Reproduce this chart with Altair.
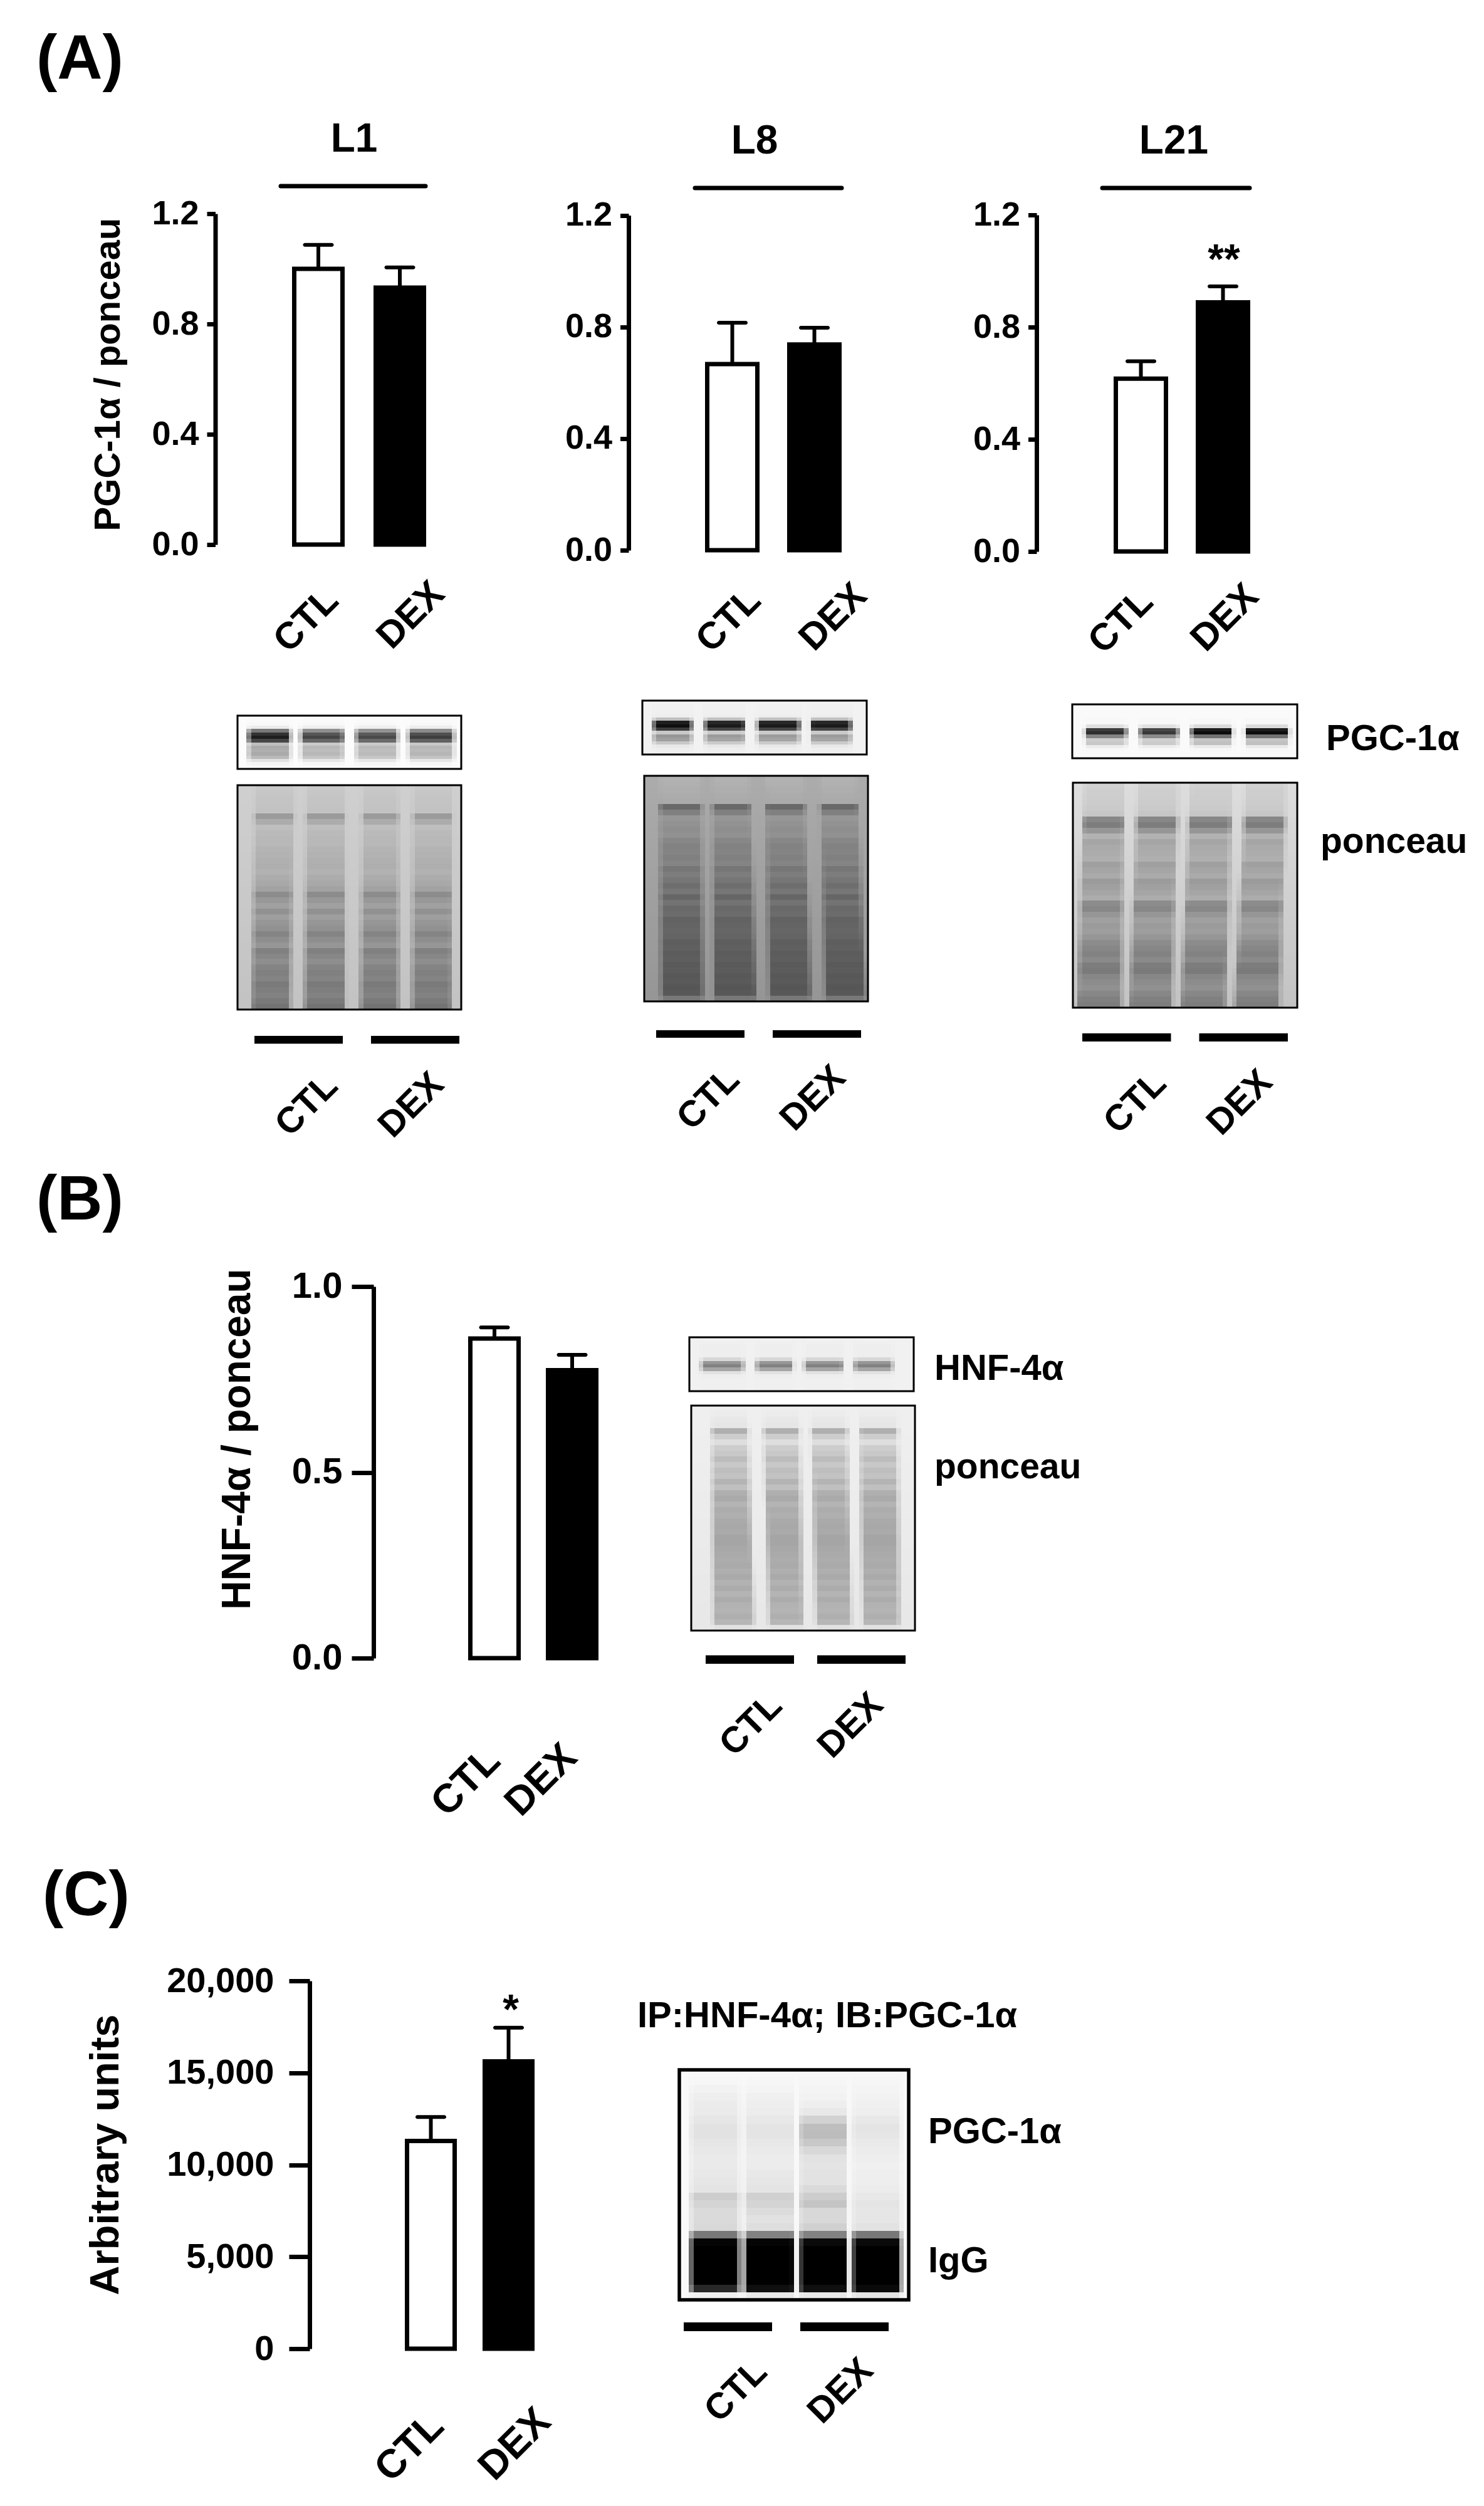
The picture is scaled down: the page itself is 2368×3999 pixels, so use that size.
import altair as alt
import pandas as pd

FONT = "Liberation Sans"
M = 8  # page margin: picture coordinates minus this give plot coordinates

GROUPS = ["CTL", "DEX"]

# ---- bar values ----
L1_MEAN = [1.00, 0.932]
L1_TOP = [1.087, 1.005]
L8_MEAN = [0.667, 0.737]
L8_TOP = [0.815, 0.797]
L21_MEAN = [0.616, 0.888]
L21_TOP = [0.678, 0.945]
B_MEAN = [0.86, 0.775]
B_TOP = [0.89, 0.816]
C_MEAN = [11295, 15620]
C_TOP = [12600, 17450]
TICKS_A = [0, 0.4, 0.8, 1.2]
TICKS_B = [0, 0.5, 1.0]
TICKS_C = [0, 5000, 10000, 15000, 20000]

# ---- blot row profiles (grey level, top to bottom) ----
W_L1 = [250, 250, 248, 235, 120, 50, 30, 70, 190, 170, 175, 170, 185, 225, 245, 250]
W_L8 = [242, 240, 240, 240, 238, 190, 30, 15, 60, 200, 150, 160, 200, 232, 238, 240]
W_L21 = [250, 250, 250, 250, 248, 248, 220, 40, 25, 120, 200, 195, 235, 248, 250, 250]
W_B = [242, 240, 238, 238, 238, 238, 215, 150, 130, 165, 225, 238, 240, 240, 240, 238]
P_L1 = [200, 198, 196, 195, 194, 155, 172, 190, 186, 184, 184, 180, 178, 176, 174, 178, 172, 168, 162, 140,
        152, 160, 145, 158, 150, 145, 132, 142, 150, 128, 135, 142, 132, 128, 132, 122, 126, 130, 122, 115]
P_L8 = [178, 176, 174, 172, 170, 105, 128, 150, 146, 142, 145, 135, 130, 132, 128, 132, 118, 125, 118, 110,
        118, 102, 115, 105, 108, 98, 100, 102, 100, 94, 96, 92, 94, 90, 92, 88, 90, 86, 88, 120]
P_L21 = [208, 206, 205, 204, 202, 198, 135, 125, 150, 178, 165, 170, 172, 175, 160, 165, 170, 155, 160, 165,
         172, 140, 135, 150, 160, 155, 158, 150, 140, 135, 130, 138, 125, 122, 135, 140, 145, 135, 128, 125]
P_B = [238, 236, 232, 230, 175, 205, 222, 205, 200, 188, 200, 190, 195, 180, 192, 175, 170, 180, 172, 175,
       170, 168, 170, 165, 165, 168, 170, 172, 170, 175, 170, 178, 172, 180, 172, 178, 180, 175, 182, 225]
IP_LANE1 = [248, 246, 242, 238, 235, 234, 230, 226, 226, 230, 232, 234, 234, 232, 230, 228, 205, 212, 218, 218,
            216, 120, 5, 0, 0, 0, 0, 0, 40, 240]
IP_LANE2 = [248, 246, 244, 240, 238, 236, 232, 228, 228, 232, 234, 236, 236, 232, 230, 228, 208, 212, 220, 226,
            222, 130, 5, 0, 0, 0, 0, 0, 15, 232]
IP_LANE3 = [248, 246, 244, 242, 238, 232, 210, 190, 188, 200, 216, 226, 228, 226, 226, 218, 205, 196, 216, 216,
            208, 130, 10, 0, 0, 0, 0, 0, 15, 232]
IP_LANE4 = [248, 246, 244, 242, 240, 238, 232, 228, 230, 234, 236, 238, 240, 238, 238, 236, 232, 228, 230, 230,
            226, 120, 10, 0, 0, 0, 0, 0, 10, 228]

BASE = dict(width=2352, height=3983)


def px(v):
    return v - M


def band_x(left, right, bar):
    """Band scale from the outer extent of the two bars / strips."""
    span = right - left
    step = span - bar
    return alt.Scale(type="band", domain=GROUPS, range=[px(left), px(right)],
                     paddingInner=1 - bar / step, paddingOuter=0)


def y_scale(dom_max, y_bottom, y_top):
    return alt.Scale(domain=[0, dom_max], range=[px(y_bottom), px(y_top)], nice=False, zero=False)


def table(**cols):
    return pd.DataFrame(cols)


def text_at(s, x, y, size, align="left", baseline="alphabetic"):
    return (alt.Chart(table(t=[s]))
            .mark_text(font=FONT, fontWeight="bold", fontSize=size, color="black", align=align, baseline=baseline)
            .encode(text="t:N", x=alt.value(px(x)), y=alt.value(px(y))))


def slanted_labels(cx, cy, size=60):
    return (alt.Chart(table(group=GROUPS))
            .mark_text(font=FONT, fontWeight="bold", fontSize=size, color="black", angle=315,
                       align="center", baseline="middle")
            .encode(text="group:N",
                    x=alt.X("group:N", axis=None,
                            scale=alt.Scale(type="point", domain=GROUPS, range=[px(cx[0]), px(cx[1])], padding=0)),
                    y=alt.Y("group:N", axis=None,
                            scale=alt.Scale(type="point", domain=GROUPS, range=[px(cy[0]), px(cy[1])], padding=0))))


def strips(left, right, bar, y0, y1):
    return (alt.Chart(table(group=GROUPS)).mark_rect(color="black")
            .encode(x=alt.X("group:N", axis=None, scale=band_x(left, right, bar)),
                    y=alt.value(px(y0)), y2=alt.value(px(y1))))


def bar_panel(mean, top, ticks, fmt, dom_max, axis_x, y_bottom, y_top, left, right, bar_w, cap, stroke=7,
              tick_size=13.5, label_pad=13, label_size=54, title=None, title_size=58, title_x=None, title_y=None):
    d = table(group=GROUPS, mean=mean, top=top)
    xs = band_x(left + stroke / 2, right - stroke / 2, bar_w - stroke)
    ys = y_scale(dom_max, y_bottom, y_top)
    x = alt.X("group:N", axis=None, scale=xs)
    stem = alt.Chart(d).mark_rule(color="black", strokeWidth=6).encode(
        x=x, y=alt.Y("mean:Q", axis=None, scale=ys), y2="top:Q")
    capm = alt.Chart(d).mark_tick(color="black", size=cap, thickness=6, orient="horizontal",
                                  cornerRadius=3, opacity=1).encode(
        x=x, y=alt.Y("top:Q", axis=None, scale=ys))
    ax = dict(values=ticks, format=fmt, orient="left", offset=-px(axis_x), grid=False,
              domainColor="black", domainWidth=7, tickColor="black", tickWidth=7, tickSize=tick_size,
              labelFont=FONT, labelFontWeight="bold", labelFontSize=label_size, labelColor="black",
              labelPadding=label_pad, title=title if title else None)
    if title:
        ax.update(titleFont=FONT, titleFontWeight="bold", titleFontSize=title_size, titleColor="black",
                  titleAngle=270, titleAlign="center", titleBaseline="alphabetic",
                  titleX=title_x - axis_x, titleY=px(title_y))
    bars = alt.Chart(d).mark_bar(stroke="black", strokeWidth=stroke, strokeJoin="miter").encode(
        x=x,
        y=alt.Y("mean:Q", stack=None, axis=alt.Axis(**ax), scale=ys),
        fill=alt.Fill("group:N", legend=None, scale=alt.Scale(domain=GROUPS, range=["#ffffff", "#000000"])))
    return [stem, capm, bars]


def blot(rows, lanes_top, lanes_bot, box, bg, strength=(1, 1, 1, 1), border=3, ncols=48, bg_bot=None):
    x0, x1, y0, y1 = box
    per_lane = isinstance(rows[0], (list, tuple))
    nrows = len(rows[0]) if per_lane else len(rows)
    bg_bot = bg if bg_bot is None else bg_bot
    recs = []
    for r in range(nrows):
        t = (r + 0.5) / nrows
        back = bg + (bg_bot - bg) * t
        for c in range(ncols):
            f = (c + 0.5) / ncols
            val = back
            for i in range(4):
                l = lanes_top[i][0] + (lanes_bot[i][0] - lanes_top[i][0]) * t
                h = lanes_top[i][1] + (lanes_bot[i][1] - lanes_top[i][1]) * t
                m = max(0.0, min(1.0, min(f - l, h - f) / 0.022 + 0.5))
                if m > 0:
                    level = rows[i][r] if per_lane else rows[r]
                    val = back + m * strength[i] * (level - back)
            g = int(max(0, min(255, val)))
            recs.append(dict(c0=c, c1=c + 1, r0=r, r1=r + 1, g=f"#{g:02x}{g:02x}{g:02x}"))
    xs = alt.Scale(domain=[0, ncols], range=[px(x0), px(x1)], nice=False, zero=False, round=True)
    ys = alt.Scale(domain=[0, nrows], range=[px(y0), px(y1)], nice=False, zero=False, round=True)
    cells = alt.Chart(pd.DataFrame(recs)).mark_rect(strokeWidth=0).encode(
        x=alt.X("c0:Q", axis=None, scale=xs), x2="c1:Q",
        y=alt.Y("r0:Q", axis=None, scale=ys), y2="r1:Q",
        color=alt.Color("g:N", scale=None, legend=None))
    frame = alt.Chart(table(c0=[0], c1=[ncols], r0=[0], r1=[nrows])).mark_rect(
        fillOpacity=0, stroke="black", strokeWidth=border).encode(
        x=alt.X("c0:Q", axis=None, scale=xs), x2="c1:Q",
        y=alt.Y("r0:Q", axis=None, scale=ys), y2="r1:Q")
    return [cells, frame]


def header_rule(x0, x1, y):
    return (alt.Chart(table(a=[1])).mark_rule(color="black", strokeWidth=7, strokeCap="round")
            .encode(x=alt.value(px(x0)), x2=alt.value(px(x1)), y=alt.value(px(y))))


layers = []

# ---------- panel letters ----------
layers += [text_at("(A)", 58, 126, 100), text_at("(B)", 58, 1946, 100), text_at("(C)", 68, 3056, 100)]

# ---------- A: L1 ----------
layers += bar_panel(L1_MEAN, L1_TOP, TICKS_A, ".1f", 1.2, 343.5, 869, 341, 466, 680, 84, 49,
                    title="PGC-1α / ponceau", title_size=58, title_x=190, title_y=597)
layers += [text_at("L1", 565, 242, 64, "center"), header_rule(448, 679, 297),
           slanted_labels([489, 656], [990, 982])]
# ---------- A: L8 ----------
layers += bar_panel(L8_MEAN, L8_TOP, TICKS_A, ".1f", 1.2, 1003, 878, 343.5, 1125, 1343, 87, 49)
layers += [text_at("L8", 1204, 245, 64, "center"), header_rule(1109, 1343, 300),
           slanted_labels([1163, 1330], [990, 985])]
# ---------- A: L21 ----------
layers += bar_panel(L21_MEAN, L21_TOP, TICKS_A, ".1f", 1.2, 1654, 880, 343, 1777, 1995, 87, 49)
layers += [text_at("L21", 1873, 245, 64, "center"), header_rule(1759, 1994, 300),
           slanted_labels([1789, 1955], [992, 986]), text_at("**", 1953, 436, 66, "center")]

# ---------- A: blots ----------
LANES_L1_TOP = [(.08, .255), (.31, .48), (.56, .72), (.785, .96)]
LANES_L1_BOT = [(.065, .235), (.30, .48), (.55, .72), (.78, .955)]
layers += blot(W_L1, [(.05, .235), (.285, .475), (.53, .715), (.765, .965)],
               [(.05, .235), (.285, .475), (.53, .715), (.765, .965)], (378.6, 736, 1142, 1227), 252,
               strength=(1, .82, .8, .85))
layers += blot(P_L1, LANES_L1_TOP, LANES_L1_BOT, (378.6, 736, 1253, 1611), 208, bg_bot=195)
layers += [strips(406, 733, 141, 1653, 1665.5), slanted_labels([490, 657], [1764, 1764], 58)]

layers += blot(W_L8, [(.05, .22), (.28, .456), (.515, .70), (.75, .93)],
               [(.05, .22), (.28, .456), (.515, .70), (.75, .93)], (1025, 1383, 1118, 1204), 242,
               strength=(1, .95, .95, .95))
layers += blot(P_L8, [(.067, .255), (.303, .47), (.54, .715), (.784, .95)],
               [(.077, .263), (.312, .50), (.56, .745), (.81, .987)], (1028, 1385, 1238, 1598), 172, bg_bot=150)
layers += [strips(1047, 1374, 141, 1644, 1656), slanted_labels([1131, 1298], [1754, 1753], 58)]

layers += blot(W_L21, [(.06, .24), (.30, .47), (.53, .71), (.77, .96)],
               [(.06, .24), (.30, .47), (.53, .71), (.77, .96)], (1711, 2070, 1124, 1210), 250,
               strength=(.9, .85, 1.05, 1.05))
layers += blot(P_L21, [(.05, .23), (.29, .47), (.525, .71), (.77, .95)],
               [(.02, .215), (.25, .44), (.48, .68), (.72, .92)], (1712, 2070, 1249, 1608), 222, bg_bot=195)
layers += [strips(1727, 2055, 141.5, 1649, 1662), slanted_labels([1812, 1979], [1760, 1760], 58)]
layers += [text_at("PGC-1α", 2116, 1197, 58), text_at("ponceau", 2107, 1361, 57)]

# ---------- B ----------
layers += bar_panel(B_MEAN, B_TOP, TICKS_B, ".1f", 1.0, 596, 2646, 2053, 747, 955, 84, 49,
                    tick_size=35, label_pad=15, label_size=58,
                    title="HNF-4α / ponceau", title_size=64, title_x=398, title_y=2296)
layers += [slanted_labels([744, 864], [2844, 2841], 64)]
layers += blot(W_B, [(.055, .24), (.30, .46), (.515, .685), (.735, .905)],
               [(.055, .24), (.30, .46), (.515, .685), (.735, .905)], (1100, 1458, 2134, 2220), 241)
layers += blot(P_B, [(.09, .25), (.32, .48), (.535, .695), (.75, .92)],
               [(.10, .28), (.35, .50), (.56, .715), (.77, .93)], (1103, 1460, 2243, 2602), 240, bg_bot=232)
layers += [strips(1126, 1445, 141, 2641.5, 2655), slanted_labels([1199, 1358], [2753, 2754], 58),
           text_at("HNF-4α", 1491, 2202, 58), text_at("ponceau", 1491, 2359, 57)]

# ---------- C ----------
layers += bar_panel(C_MEAN, C_TOP, TICKS_C, ",d", 20000, 494, 3748, 3161, 646, 853, 83, 49,
                    tick_size=33, label_pad=24, label_size=56,
                    title="Arbitrary units", title_size=65, title_x=188, title_y=3438)
layers += [text_at("*", 815, 3229, 66, "center"), slanted_labels([654, 822], [3906, 3901], 64)]
layers += blot([IP_LANE1, IP_LANE2, IP_LANE3, IP_LANE4],
               [(.05, .26), (.285, .50), (.525, .73), (.755, .965)],
               [(.05, .26), (.285, .50), (.525, .73), (.755, .965)], (1084, 1450, 3303, 3670), 249, border=5.5)
layers += [strips(1091, 1418, 141, 3706, 3720), slanted_labels([1175, 1342], [3816, 3816], 58),
           text_at("IP:HNF-4α; IB:PGC-1α", 1017, 3235, 58), text_at("PGC-1α", 1481, 3420, 58),
           text_at("IgG", 1481, 3626, 58)]

chart = (alt.layer(*layers)
         .resolve_scale(x="independent", y="independent", color="independent", fill="independent")
         .properties(width=BASE["width"], height=BASE["height"], padding=0,
                     autosize=alt.AutoSizeParams(type="none", contains="padding"), background="white")
         .configure_view(strokeWidth=0))

chart.save("out.html", embed_options={"renderer": "svg", "actions": False})
